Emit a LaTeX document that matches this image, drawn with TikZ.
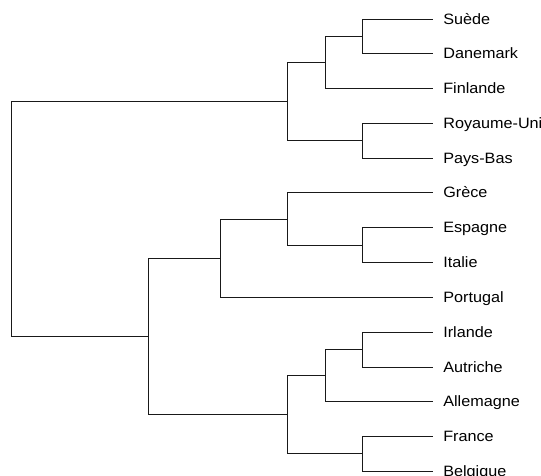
\documentclass[tikz,border=0pt]{standalone}
\usepackage{fontspec}
\newfontfamily\labfont[FakeStretch=1.08]{Liberation Sans}
\begin{document}
\begin{tikzpicture}[x=1bp,y=1bp,
  branch/.style={draw=black!90,line width=1.5bp},
  leaflabel/.style={anchor=base west,inner sep=0pt,font=\labfont\fontsize{15bp}{17bp}\selectfont,text=black}]
\useasboundingbox (0,0) rectangle (541,-476);
% leaves
\foreach \n/\y in {1/19.5,2/53.5,3/88.5,4/123.5,5/158.5,6/192.5,7/227.5,8/262.5,9/297.5,10/332.5,11/367.5,12/401.5,13/436.5,14/471.5}
  \coordinate (l\n) at (432.5,-\y);
\foreach \n/\t in {1/Suède,2/Danemark,3/Finlande,4/Royaume-Uni,5/Pays-Bas,6/Grèce,7/Espagne,8/Italie,9/Portugal,10/Irlande,11/Autriche,12/Allemagne,13/France,14/Belgique}
  \node[leaflabel] (t\n) at ([xshift=10.6bp,yshift=-5.3bp]l\n) {\t};
% internal nodes
\coordinate (sd)    at (362.5,-36.5);
\coordinate (sdf)   at (325.5,-62.5);
\coordinate (rp)    at (362.5,-140.5);
\coordinate (top)   at (287.5,-101.5);
\coordinate (ei)    at (362.5,-245.5);
\coordinate (gei)   at (287.5,-219.5);
\coordinate (geip)  at (220.5,-258.5);
\coordinate (ia)    at (362.5,-349.5);
\coordinate (iaa)   at (325.5,-375.5);
\coordinate (fb)    at (362.5,-453.5);
\coordinate (bot)   at (287.5,-414.5);
\coordinate (south) at (148.5,-336.5);
\coordinate (root)  at (11.5,-219.5);
% branches
\draw[branch] (l1) -| (sd) |- (l2);
\draw[branch] (sd) -| (sdf) |- (l3);
\draw[branch] (l4) -| (rp) |- (l5);
\draw[branch] (sdf) -| (top) |- (rp);
\draw[branch] (l7) -| (ei) |- (l8);
\draw[branch] (l6) -| (gei) |- (ei);
\draw[branch] (gei) -| (geip) |- (l9);
\draw[branch] (l10) -| (ia) |- (l11);
\draw[branch] (ia) -| (iaa) |- (l12);
\draw[branch] (l13) -| (fb) |- (l14);
\draw[branch] (iaa) -| (bot) |- (fb);
\draw[branch] (geip) -| (south) |- (bot);
\draw[branch] (top) -| (root) |- (south);
\end{tikzpicture}
\end{document}
